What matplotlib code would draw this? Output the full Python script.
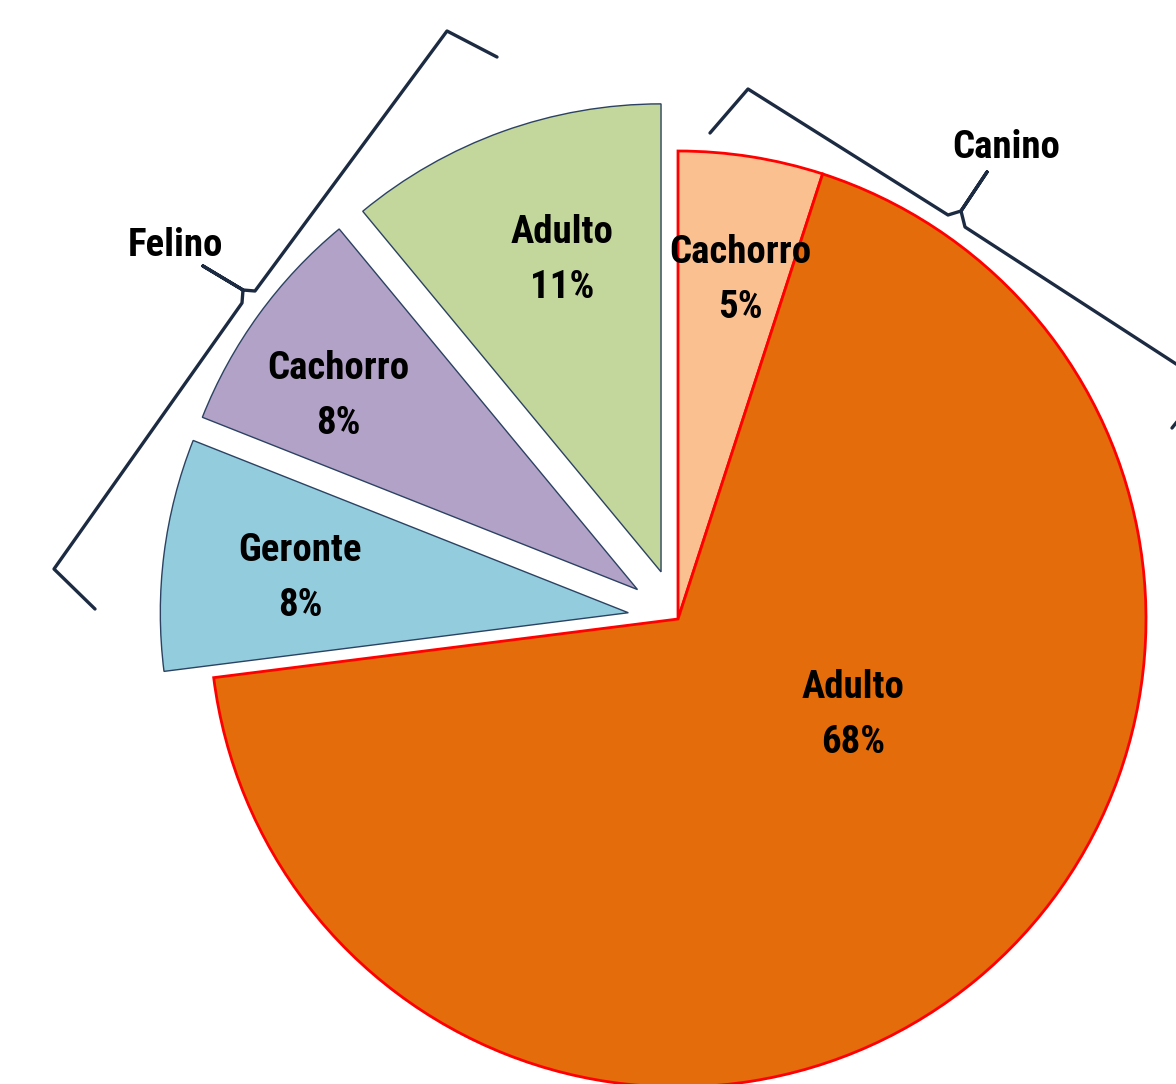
import matplotlib
matplotlib.use("Agg")
import matplotlib.pyplot as plt
from matplotlib import font_manager

W, H = 1176, 1084

# ---- data ----
groups = ["Canino", "Canino", "Felino", "Felino", "Felino"]
categories = ["Cachorro", "Adulto", "Geronte", "Cachorro", "Adulto"]
values = [5, 68, 8, 8, 11]
group_labels = ["Felino", "Canino"]

colors = ["#FAC090", "#E46C0A", "#93CDDD", "#B3A2C7", "#C3D69B"]
edgecolors = ["#FF0000", "#FF0000", "#2B4262", "#2B4262", "#2B4262"]
linewidths = [2.0, 2.0, 1.0, 1.0, 1.0]
explode_frac = [0.0, 0.0, 0.107, 0.107, 0.107]

# label centre positions (pixels, top-left origin)
label_pos = [(740, 280), (853, 715), (300, 578), (338, 396), (562, 260)]

RADIUS = 468
CENTER_PX = (678, 619)

names = {f.name for f in font_manager.fontManager.ttflist}
stretch = "normal"
if "Liberation Sans Narrow" in names:
    fam = ["Liberation Sans Narrow", "DejaVu Sans"]
elif "Roboto Condensed" in names:
    fam = ["Roboto Condensed", "DejaVu Sans"]
else:
    fam = ["DejaVu Sans"]
    stretch = "condensed"


def py(y):
    return H - y


fig = plt.figure(figsize=(W / 100, H / 100), dpi=100)
ax = fig.add_axes([0, 0, 1, 1])

wedges, _ = ax.pie(values, colors=colors,
                   explode=[e * RADIUS for e in explode_frac], startangle=90,
                   counterclock=False, center=(CENTER_PX[0], py(CENTER_PX[1])),
                   radius=RADIUS, frame=True)
ax.set_xlim(0, W)
ax.set_ylim(0, H)
ax.set_aspect("equal")
ax.axis("off")
for w, ec, lw in zip(wedges, edgecolors, linewidths):
    w.set_edgecolor(ec)
    w.set_linewidth(lw)

fs = 28
for cat, v, (x, y) in zip(categories, values, label_pos):
    ax.text(x, py(y), f"{cat}\n{v}%", ha="center", va="center",
            fontsize=fs, fontweight="bold", family=fam, fontstretch=stretch,
            linespacing=1.6, color="black")

# group brackets
bcol = "#1C2B42"
felino = [(497, 57), (447, 31), (255, 291), (243, 290), (203, 266), (243, 290),
          (242, 303), (54, 569), (95, 609)]
canino = [(710, 133), (748, 89), (948, 215), (961, 211), (987, 172), (961, 211),
          (965, 227), (1207, 384), (1172, 428)]
for pts in (felino, canino):
    ax.plot([p[0] for p in pts], [py(p[1]) for p in pts], color=bcol, lw=2.4,
            solid_joinstyle="round", solid_capstyle="round", clip_on=False)

ax.text(175, py(245), group_labels[0], ha="center", va="center", fontsize=fs,
        fontweight="bold", family=fam, fontstretch=stretch, color="black")
ax.text(1006, py(147), group_labels[1], ha="center", va="center", fontsize=fs,
        fontweight="bold", family=fam, fontstretch=stretch, color="black")

fig.savefig("out.png", dpi=100, facecolor="white")
